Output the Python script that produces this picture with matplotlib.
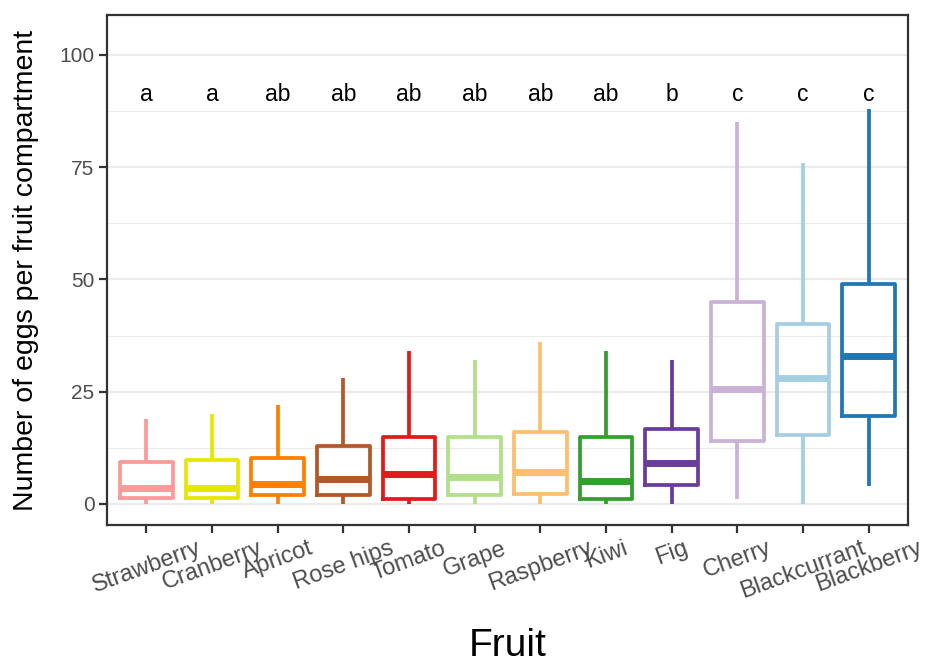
import matplotlib
matplotlib.use("Agg")
import matplotlib.pyplot as plt

plt.rcParams['font.family'] = ['Liberation Sans', 'DejaVu Sans']

fruits = ["Strawberry", "Cranberry", "Apricot", "Rose hips", "Tomato", "Grape",
          "Raspberry", "Kiwi", "Fig", "Cherry", "Blackcurrant", "Blackberry"]
whisker_low = [0, 0, 0, 0, 0, 0, 0, 0, 0, 1, 0, 4]
q1 = [1.3, 1.3, 2, 2, 1.1, 2, 2.2, 1, 4.2, 14, 15.4, 19.5]
medians = [3.5, 3.5, 4.4, 5.6, 6.6, 6.1, 7.1, 5, 9.1, 25.5, 28, 33]
q3 = [9.4, 9.8, 10.2, 12.8, 15, 14.8, 16, 15, 16.7, 45, 40, 49]
whisker_high = [19, 20, 22, 28, 34, 32, 36, 34, 32, 85, 76, 88]
letters = ["a", "a", "ab", "ab", "ab", "ab", "ab", "ab", "b", "c", "c", "c"]
colors = ["#FB9A99", "#E6E600", "#FF7F00", "#B15928", "#E31A1C", "#B2DF8A",
          "#FDBF6F", "#33A02C", "#6A3D9A", "#CAB2D6", "#A6CEE3", "#1F78B4"]
letter_y = 91.3

fig = plt.figure(figsize=(9.28, 6.64), dpi=100)
ax = fig.add_axes([107 / 928, 139 / 664, 801 / 928, 510 / 664])

# light horizontal grid: major and minor
for v in [0, 25, 50, 75, 100]:
    ax.axhline(v, color="#EBEBEB", lw=1.6, zorder=0)
for v in [12.5, 37.5, 62.5, 87.5]:
    ax.axhline(v, color="#EBEBEB", lw=0.8, zorder=0)

positions = list(range(1, len(fruits) + 1))
for i, pos in enumerate(positions):
    stats = [dict(med=medians[i], q1=q1[i], q3=q3[i],
                  whislo=whisker_low[i], whishi=whisker_high[i], fliers=[])]
    c = colors[i]
    ax.bxp(stats, positions=[pos], widths=0.8, showcaps=False, showfliers=False,
           boxprops=dict(color=c, lw=2.7),
           whiskerprops=dict(color=c, lw=2.7, solid_capstyle='butt'),
           medianprops=dict(color=c, lw=5.0, solid_capstyle='butt'),
           manage_ticks=False, zorder=3)
    ax.text(pos, letter_y, letters[i], ha="center", va="center", fontsize=16.5, color="black")

ax.set_xlim(0.4, 12.6)
ax.set_ylim(-4.7, 108.9)
ax.set_yticks([0, 25, 50, 75, 100])
ax.set_xticks(positions)
ax.set_xticklabels(fruits, rotation=20, ha="center", va="top")
ax.tick_params(axis="both", colors="#333333", width=1.6, length=6,
               labelcolor="#4D4D4D")
ax.tick_params(axis="y", labelsize=15, pad=3)
ax.tick_params(axis="x", labelsize=17, pad=3)
for s in ax.spines.values():
    s.set_color("#333333")
    s.set_linewidth(1.6)

ax.set_xlabel("Fruit", fontsize=28, labelpad=18)
ax.set_ylabel("Number of eggs per fruit compartment", fontsize=20.5, labelpad=15)

fig.savefig("out.png", dpi=100)
